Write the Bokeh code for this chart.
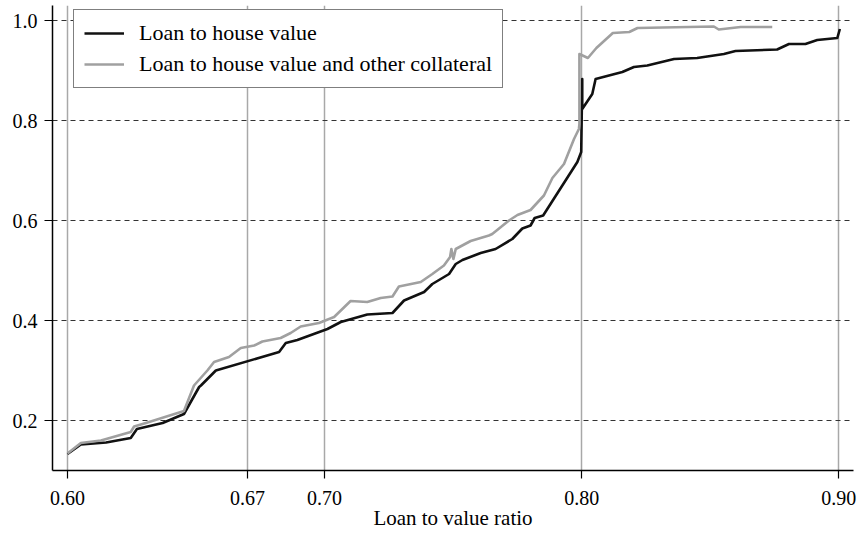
from bokeh.plotting import figure
from bokeh.models import FixedTicker, Legend, LegendItem, Range1d
from bokeh.embed import file_html
from bokeh.resources import INLINE

x_ticks = [0.60, 0.67, 0.70, 0.80, 0.90]
x_tick_labels = ["0.60", "0.67", "0.70", "0.80", "0.90"]
y_ticks = [0.2, 0.4, 0.6, 0.8, 1.0]
y_tick_labels = ["0.2", "0.4", "0.6", "0.8", "1.0"]

series_names = ["Loan to house value", "Loan to house value and other collateral"]

house_x = [0.600, 0.6052, 0.615, 0.6246, 0.627, 0.637, 0.6453, 0.6512, 0.6519, 0.6577,
           0.6823, 0.6849, 0.6894, 0.7011, 0.7063, 0.7166, 0.7264, 0.7309, 0.7387, 0.7419,
           0.7484, 0.7510, 0.7536, 0.7607, 0.7665, 0.7730, 0.7769, 0.7801, 0.7817, 0.7850,
           0.7983, 0.7998, 0.8002, 0.8002, 0.8041, 0.8054, 0.8158, 0.8203, 0.8255, 0.8359,
           0.8449, 0.8553, 0.8598, 0.8760, 0.8806, 0.8870, 0.8916, 0.8994, 0.9004]
house_y = [0.133, 0.152, 0.156, 0.165, 0.183, 0.195, 0.213, 0.267, 0.270, 0.300,
           0.337, 0.355, 0.361, 0.383, 0.397, 0.412, 0.415, 0.440, 0.457, 0.473,
           0.493, 0.513, 0.521, 0.535, 0.543, 0.563, 0.584, 0.590, 0.605, 0.610,
           0.717, 0.737, 0.883, 0.823, 0.853, 0.883, 0.897, 0.907, 0.910, 0.923,
           0.925, 0.933, 0.939, 0.942, 0.953, 0.953, 0.961, 0.965, 0.983]

other_x = [0.600, 0.6052, 0.6130, 0.6246, 0.6259, 0.6305, 0.6453, 0.6492, 0.6544, 0.6570,
           0.6628, 0.6674, 0.6726, 0.6758, 0.6829, 0.6868, 0.6907, 0.6978, 0.7037, 0.7101,
           0.7166, 0.7218, 0.7264, 0.7289, 0.7374, 0.7419, 0.7464, 0.7488, 0.7493, 0.7501,
           0.7510, 0.7568, 0.7639, 0.7652, 0.7717, 0.7750, 0.7801, 0.7853, 0.7886, 0.7931,
           0.7970, 0.7989, 0.7991, 0.7991, 0.8024, 0.8057, 0.8121, 0.8185, 0.8217, 0.8514,
           0.8533, 0.8618, 0.8741]
other_y = [0.134, 0.155, 0.160, 0.177, 0.188, 0.195, 0.219, 0.270, 0.300, 0.317,
           0.327, 0.345, 0.350, 0.358, 0.365, 0.375, 0.388, 0.395, 0.407, 0.439,
           0.437, 0.445, 0.448, 0.468, 0.477, 0.493, 0.510, 0.527, 0.543, 0.523,
           0.543, 0.559, 0.570, 0.573, 0.600, 0.611, 0.621, 0.650, 0.685, 0.713,
           0.763, 0.783, 0.793, 0.933, 0.925, 0.945, 0.975, 0.977, 0.985, 0.988,
           0.982, 0.987, 0.987]

FONT = "Liberation Serif"

p = figure(width=859, height=533, output_backend="svg", toolbar_location=None,
           x_range=Range1d(0.59417, 0.9057), y_range=Range1d(0.1, 1.03),
           min_border_left=52, min_border_right=6, min_border_top=5, min_border_bottom=63)
p.outline_line_color = None
p.background_fill_color = "white"
p.border_fill_color = "white"

# grids
p.xgrid.ticker = FixedTicker(ticks=x_ticks)
p.xgrid.grid_line_color = "#a8a8a8"
p.xgrid.grid_line_width = 1.5
p.ygrid.ticker = FixedTicker(ticks=y_ticks)
p.ygrid.grid_line_color = "#333333"
p.ygrid.grid_line_width = 1
p.ygrid.grid_line_dash = "5 4"

# axes
p.xaxis.ticker = FixedTicker(ticks=x_ticks)
p.xaxis.major_label_overrides = dict(zip(x_ticks, x_tick_labels))
p.yaxis.ticker = FixedTicker(ticks=y_ticks)
p.yaxis.major_label_overrides = dict(zip(y_ticks, y_tick_labels))
for ax in (p.xaxis, p.yaxis):
    ax.axis_line_color = "black"
    ax.axis_line_width = 1.5
    ax.major_tick_line_color = "black"
    ax.major_tick_line_width = 1.2
    ax.major_tick_out = 8
    ax.major_tick_in = 0
    ax.minor_tick_line_color = None
    ax.major_label_text_font = FONT
    ax.major_label_text_font_size = "20px"
    ax.major_label_text_color = "black"
p.xaxis.major_label_standoff = 12
p.yaxis.major_label_standoff = 7
p.xaxis.axis_label = "Loan to value ratio"
p.xaxis.axis_label_text_font = FONT
p.xaxis.axis_label_text_font_size = "21px"
p.xaxis.axis_label_text_font_style = "normal"
p.xaxis.axis_label_text_color = "black"
p.xaxis.axis_label_standoff = -2

r1 = p.line(house_x, house_y, line_color="#111111", line_width=2.6, line_join="round")
r2 = p.line(other_x, other_y, line_color="#a0a0a0", line_width=2.6, line_join="round")

legend = Legend(items=[LegendItem(label=series_names[0], renderers=[r1]),
                       LegendItem(label=series_names[1], renderers=[r2])],
                location=(21, 382))
legend.label_text_font = FONT
legend.label_text_font_size = "22px"
legend.label_text_color = "black"
legend.border_line_color = "black"
legend.border_line_width = 1
legend.background_fill_alpha = 1
legend.padding = 10
legend.spacing = 5
legend.label_height = 24
legend.glyph_height = 24
legend.glyph_width = 40
legend.label_standoff = 15
legend.margin = 0
p.add_layout(legend, "center")

open("out.html", "w").write(file_html(p, INLINE))
